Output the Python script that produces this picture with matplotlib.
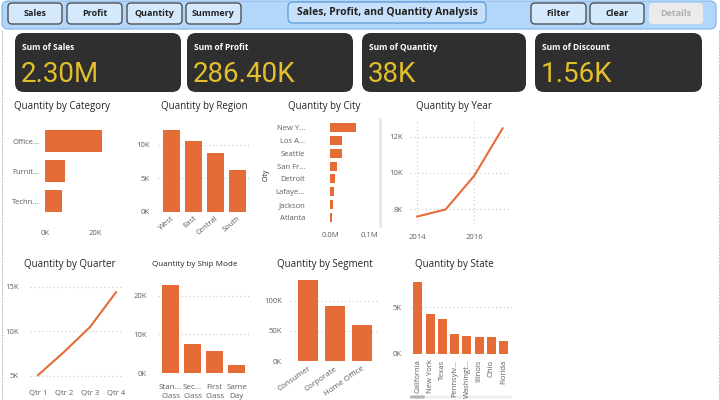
import matplotlib
matplotlib.use('Agg')
import matplotlib.pyplot as plt
from matplotlib.patches import FancyBboxPatch, Rectangle
from matplotlib.ticker import FuncFormatter

# ---- data ----
nav_buttons = ['Sales', 'Profit', 'Quantity', 'Summery']
action_buttons = ['Filter', 'Clear', 'Details']
kpi_labels = ['Sum of Sales', 'Sum of Profit', 'Sum of Quantity', 'Sum of Discount']
kpi_values = ['2.30M', '286.40K', '38K', '1.56K']

cat_names = ['Office...', 'Furnit...', 'Techn...']
cat_qty = [22906, 8028, 6939]

region_names = ['West', 'East', 'Central', 'South']
region_qty = [12266, 10618, 8780, 6209]

city_names = ['New Y...', 'Los A...', 'Seattle', 'San Fr...', 'Detroit', 'Lafaye...', 'Jackson', 'Atlanta']
city_qty = [65000, 31000, 29000, 17000, 13000, 9000, 7000, 6000]

years = [2014, 2015, 2016, 2017]
year_qty = [7581, 7979, 9837, 12476]

quarters = ['Qtr 1', 'Qtr 2', 'Qtr 3', 'Qtr 4']
quarter_qty = [5100, 7700, 10500, 14400]

ship_modes = ['Stan...\nClass', 'Sec...\nClass', 'First\nClass', 'Same\nDay']
ship_qty = [22797, 7423, 5693, 1960]

segments = ['Consumer', 'Corporate', 'Home Office']
segment_qty = [135000, 92000, 60000]

states = ['California', 'New York', 'Texas', 'Pennsylv...', 'Washingt...', 'Illinois', 'Ohio', 'Florida']
state_qty = [7667, 4224, 3724, 2153, 1883, 1845, 1759, 1379]

ORANGE = '#E66C37'
GRID = '#c8c8c8'
TICK = '#605E5C'
TITLE = '#252423'

plt.rcParams['font.family'] = ['Open Sans', 'DejaVu Sans']

W, H = 720, 400
fig = plt.figure(figsize=(7.2, 4), dpi=100)
fig.patch.set_facecolor('white')

bg = fig.add_axes([0, 0, 1, 1])
bg.set_xlim(0, W)
bg.set_ylim(H, 0)
bg.axis('off')


def box(x0, y0, x1, y1, fc, ec='none', lw=0, r=6):
    bg.add_patch(FancyBboxPatch((x0, y0), x1 - x0, y1 - y0,
                                boxstyle=f"round,pad=0,rounding_size={r}",
                                fc=fc, ec=ec, lw=lw))


def px_axes(x0, y0, x1, y1):
    ax = fig.add_axes([x0 / W, 1 - y1 / H, (x1 - x0) / W, (y1 - y0) / H])
    ax.set_facecolor('none')
    for s in ax.spines.values():
        s.set_visible(False)
    ax.tick_params(length=0, labelsize=5.5, colors=TICK)
    ax.set_axisbelow(True)
    return ax


def grid(ax, axis='y'):
    ax.grid(axis=axis, linestyle=(0, (1, 2.5)), color=GRID, lw=0.8)


kfmt = FuncFormatter(lambda v, p: f"{v/1000:.0f}K")

# ---- page decoration ----
bg.plot([2, 2], [30, 400], color='#aaaaaa', lw=0.8, ls=(0, (1, 1)))
bg.plot([718.5, 718.5], [30, 400], color='#aaaaaa', lw=0.8, ls=(0, (1, 1)))

# header band
box(2, 1, 716, 29, '#b3d7fa', ec='#7fb4ea', lw=0.8, r=6)
nav_x = [(8, 62), (67, 122), (127, 182), (186, 241)]
for (a, b), t in zip(nav_x, nav_buttons):
    box(a, 3, b, 24, '#d5e9fd', ec='#505050', lw=1.0, r=4)
    bg.text((a + b) / 2, 14, t, ha='center', va='center', fontsize=6.5,
            fontweight='bold', color='#222222')

box(288, 2, 486, 23, '#c6e0fb', ec='#4f94dc', lw=0.8, r=5)
bg.text(387, 12, 'Sales, Profit, and Quantity Analysis', ha='center', va='center',
        fontsize=7.5, fontweight='bold', color='#222222')

act_x = [(531, 586), (590, 644), (649, 703)]
for (a, b), t in zip(act_x, action_buttons):
    if t == 'Details':
        box(a, 3, b, 24, '#ebebeb', r=4)
        bg.text((a + b) / 2, 14, t, ha='center', va='center', fontsize=6.5,
                fontweight='bold', color='#b0b0b0')
    else:
        box(a, 3, b, 24, '#d5e9fd', ec='#505050', lw=1.0, r=4)
        bg.text((a + b) / 2, 14, t, ha='center', va='center', fontsize=6.5,
                fontweight='bold', color='#222222')

# KPI cards
card_x = [(15, 181), (187, 353), (362, 526), (535, 702)]
for (a, b), lab, val in zip(card_x, kpi_labels, kpi_values):
    box(a, 33, b, 92, '#2f2f2f', r=9)
    bg.text(a + 7, 47, lab, ha='left', va='center', fontsize=6,
            fontweight='bold', color='white')
    bg.text(a + 6, 75, val, ha='left', va='center', fontsize=20,
            color='#E3C02B', family=['Roboto', 'DejaVu Sans'])

# chart titles
titles = [(62, 106, 'Quantity by Category', 7), (204, 106, 'Quantity by Region', 7),
          (324, 107, 'Quantity by City', 7), (454, 107, 'Quantity by Year', 7),
          (70, 265, 'Quantity by Quarter', 7), (195, 264, 'Quantity by Ship Mode', 5.8),
          (325, 265, 'Quantity by Segment', 7), (454, 265, 'Quantity by State', 7)]
for x, y, t, fs in titles:
    bg.text(x, y, t, ha='center', va='center', fontsize=fs, color=TITLE)

# ---- Quantity by Category ----
ax = px_axes(45, 126, 105, 216)
ax.barh(range(len(cat_names)), cat_qty, height=0.73, color=ORANGE)
ax.set_yticks(range(len(cat_names)), cat_names)
ax.set_ylim(2.5, -0.5)
ax.set_xlim(0, 24000)
ax.set_xticks([0, 20000])
ax.xaxis.set_major_formatter(kfmt)
ax.tick_params(axis='x', pad=10)
ax.tick_params(axis='y', pad=4)

# ---- Quantity by Region ----
ax = px_axes(158, 126, 250, 212)
ax.bar(range(len(region_names)), region_qty, width=0.77, color=ORANGE)
ax.set_xlim(-0.61, 3.59)
ax.set_ylim(0, 12800)
ax.set_yticks([0, 5000, 10000])
ax.yaxis.set_major_formatter(kfmt)
ax.set_xticks(range(len(region_names)), region_names, rotation=40, ha='right',
              rotation_mode='anchor')
ax.tick_params(axis='x', pad=2)
ax.tick_params(axis='y', pad=6)
grid(ax)

# ---- Quantity by City ----
ax = px_axes(330, 121, 372, 224)
ax.barh(range(len(city_names)), city_qty, height=0.7, color=ORANGE)
ax.set_yticks(range(len(city_names)), city_names)
ax.set_ylim(7.5, -0.5)
ax.set_xlim(0, 105000)
ax.set_xticks([0, 100000])
ax.xaxis.set_major_formatter(FuncFormatter(lambda v, p: f"{v/1e6:.1f}M"))
ax.tick_params(axis='x', pad=6)
ax.tick_params(axis='y', pad=18)
bg.text(266, 175, 'City', rotation=90, ha='center', va='center', fontsize=5, color=TITLE)
bg.add_patch(Rectangle((378.5, 118), 3.5, 110, fc='#e8e8e8', ec='none'))

# ---- Quantity by Year ----
ax = px_axes(410, 120, 510, 224)
ax.plot(years, year_qty, color=ORANGE, lw=1.5)
ax.set_xlim(2013.75, 2017.26)
ax.set_ylim(7170, 12940)
ax.set_xticks([2014, 2016])
ax.set_yticks([8000, 10000, 12000])
ax.yaxis.set_major_formatter(kfmt)
ax.tick_params(axis='x', pad=7)
ax.tick_params(axis='y', pad=5)
grid(ax, 'both')

# ---- Quantity by Quarter ----
ax = px_axes(30, 282, 124, 380)
ax.plot(range(len(quarters)), quarter_qty, color=ORANGE, lw=1.5)
ax.set_xlim(-0.31, 3.31)
ax.set_ylim(4550, 15560)
ax.set_xticks(range(len(quarters)), quarters)
ax.set_yticks([5000, 10000, 15000])
ax.yaxis.set_major_formatter(kfmt)
ax.tick_params(axis='x', pad=7)
ax.tick_params(axis='y', pad=8)
grid(ax)

# ---- Quantity by Ship Mode ----
ax = px_axes(158, 282, 250, 373)
ax.bar(range(len(ship_modes)), ship_qty, width=0.77, color=ORANGE)
ax.set_xlim(-0.57, 3.61)
ax.set_ylim(0, 23600)
ax.set_xticks(range(len(ship_modes)), ship_modes, linespacing=1.3)
ax.set_yticks([0, 10000, 20000])
ax.yaxis.set_major_formatter(kfmt)
ax.tick_params(axis='x', pad=8, labelsize=5.8)
ax.tick_params(axis='y', pad=8)
grid(ax)

# ---- Quantity by Segment ----
ax = px_axes(290, 278, 380, 361)
ax.bar(range(len(segments)), segment_qty, width=0.74, color=ORANGE)
ax.set_xlim(-0.67, 2.67)
ax.set_ylim(0, 138000)
ax.set_yticks([0, 50000, 100000])
ax.yaxis.set_major_formatter(kfmt)
ax.set_xticks(range(len(segments)), segments, rotation=35, ha='right',
              rotation_mode='anchor')
ax.tick_params(axis='x', pad=3, labelsize=5.8)
ax.tick_params(axis='y', pad=6)
grid(ax)

# ---- Quantity by State ----
ax = px_axes(410, 278, 512, 354)
ax.bar(range(len(states)), state_qty, width=0.73, color=ORANGE)
ax.set_xlim(-0.63, 7.67)
ax.set_ylim(0, 8090)
ax.set_yticks([0, 5000])
ax.yaxis.set_major_formatter(kfmt)
ax.set_xticks(range(len(states)), states, rotation=90, ha='center', va='top')
ax.tick_params(axis='x', pad=4, labelsize=5.5)
ax.tick_params(axis='y', pad=6)
grid(ax)
bg.add_patch(FancyBboxPatch((410, 395.5), 102, 3, boxstyle="round,pad=0,rounding_size=1.5",
                            fc='#efefef', ec='none'))
bg.add_patch(FancyBboxPatch((410, 395.5), 15, 3, boxstyle="round,pad=0,rounding_size=1.5",
                            fc='#b5b5b5', ec='none'))

fig.savefig('out.png', dpi=100)
